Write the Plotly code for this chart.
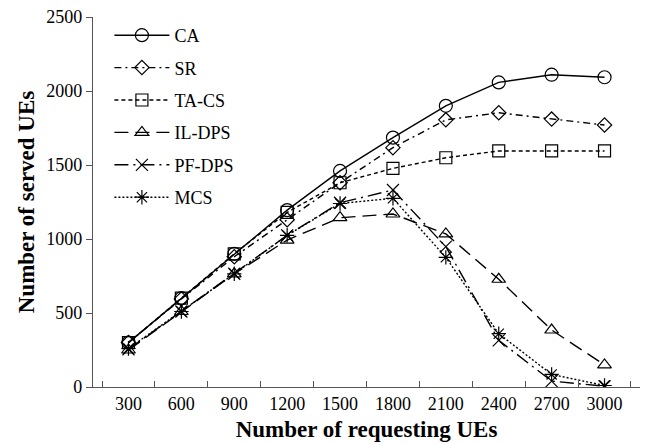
import plotly.graph_objects as go

requesting = [300, 600, 900, 1200, 1500, 1800, 2100, 2400, 2700, 3000]
x_labels = [str(v) for v in requesting]

ca = [300, 600, 900, 1195, 1460, 1685, 1900, 2058, 2110, 2093]
sr = [300, 595, 880, 1130, 1380, 1617, 1805, 1853, 1810, 1770]
ta_cs = [300, 600, 900, 1180, 1380, 1477, 1549, 1595, 1595, 1595]
il_dps = [250, 510, 765, 993, 1144, 1169, 1034, 728, 385, 149]
pf_dps = [255, 510, 765, 1025, 1245, 1331, 948, 315, 40, 5]
mcs = [260, 510, 765, 1025, 1240, 1275, 876, 360, 85, 10]

series = [
    ("CA", ca, "solid", "circle-open", 13),
    ("SR", sr, "7px,4px,2px,4px", "diamond-open", 11),
    ("TA-CS", ta_cs, "4px,3px", "square-open", 12),
    ("IL-DPS", il_dps, "14px,7px", "triangle-up-open", 12),
    ("PF-DPS", pf_dps, "14px,5px,2px,5px", "x-thin-open", 12),
    ("MCS", mcs, "2px,2px", "asterisk-open", 12),
]

FONT = "Liberation Serif, Times New Roman, serif"

fig = go.Figure()
for i, (name, vals, dash, sym, size) in enumerate(series):
    fig.add_trace(go.Scatter(
        x=x_labels, y=vals, name=name, mode="lines+markers",
        legendgroup=f"g{i}",
        line=dict(color="black", width=1.4, dash=dash),
        marker=dict(symbol=sym, size=size, color="black",
                    line=dict(color="black", width=1.2)),
    ))

fig.update_layout(
    width=646, height=444,
    margin=dict(l=93, r=6, t=17, b=57),
    paper_bgcolor="white", plot_bgcolor="white",
    font=dict(family=FONT, size=18, color="black"),
    showlegend=True,
    legend=dict(x=0.03, y=1.0, xanchor="left", yanchor="top",
                font=dict(family=FONT, size=18, color="black"),
                bgcolor="rgba(0,0,0,0)", tracegroupgap=6, itemwidth=55),
    xaxis=dict(
        type="category", tickson="boundaries", ticks="inside", ticklen=6,
        tickcolor="#555", showline=True, linecolor="#555", linewidth=1.2,
        showgrid=False, zeroline=False,
        tickfont=dict(family=FONT, size=18, color="black"),
        title=dict(text="<b>Number of requesting UEs</b>",
                   font=dict(family=FONT, size=23, color="black"), standoff=8),
    ),
    yaxis=dict(
        range=[0, 2500], tickvals=[0, 500, 1000, 1500, 2000, 2500],
        ticks="outside", ticklen=6, tickcolor="#555",
        showline=True, linecolor="#555", linewidth=1.2,
        showgrid=False, zeroline=False,
        tickfont=dict(family=FONT, size=18, color="black"),
        title=dict(text="<b>Number of served UEs</b>",
                   font=dict(family=FONT, size=23, color="black"), standoff=5),
    ),
)

fig.write_html("out.html")
